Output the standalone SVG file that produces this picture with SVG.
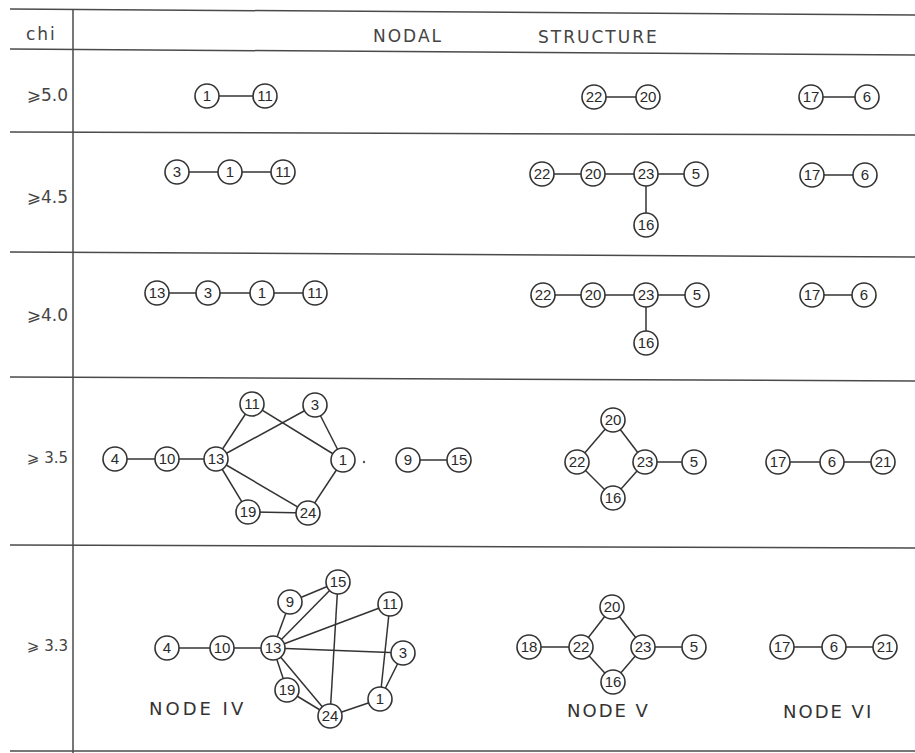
<svg xmlns="http://www.w3.org/2000/svg" width="915" height="753" viewBox="0 0 915 753">
<style>
.bg{fill:#fff}
.rule{stroke:#4a4a4a;stroke-width:1.5;fill:none}
.hd{font-family:"DejaVu Sans",sans-serif;font-size:17px;fill:#444;letter-spacing:2px}
.rl{font-family:"DejaVu Sans",sans-serif;font-size:17px;fill:#444;text-anchor:end}
.rs{font-size:15px}
.nd text{font-family:"Liberation Sans",sans-serif;font-size:15px;fill:#2a2a2a;text-anchor:middle}
.cn line{stroke:#333;stroke-width:1.5}
.cap{font-family:"DejaVu Sans",sans-serif;font-size:18px;fill:#333;letter-spacing:2px}
</style>
<defs>
<circle id="c" r="12" fill="#fff" stroke="#333" stroke-width="1.6"/>
</defs>
<rect class="bg" x="0" y="0" width="915" height="753"/>
<g id="table">
<line class="rule" x1="10" y1="9" x2="915" y2="15"/>
<line class="rule" x1="10" y1="49" x2="915" y2="55"/>
<line class="rule" x1="10" y1="132" x2="915" y2="135"/>
<line class="rule" x1="10" y1="252" x2="915" y2="257"/>
<line class="rule" x1="10" y1="377" x2="915" y2="381"/>
<line class="rule" x1="10" y1="545" x2="915" y2="548"/>
<line class="rule" x1="10" y1="751" x2="915" y2="751"/>
<line class="rule" x1="73" y1="9" x2="73" y2="753"/>
</g>
<g id="headers">
<text class="hd" x="26" y="40">chi</text>
<text class="hd" x="373" y="42">NODAL</text>
<text class="hd" x="538" y="43">STRUCTURE</text>
<text class="rl" x="68" y="101">⩾5.0</text>
<text class="rl" x="68" y="203">⩾4.5</text>
<text class="rl" x="68" y="321">⩾4.0</text>
<text class="rl rs" x="68" y="463">⩾ 3.5</text>
<text class="rl rs" x="68" y="651">⩾ 3.3</text>
<text class="cap" x="149" y="715" style="letter-spacing:3px">NODE  IV</text>
<text class="cap" x="567" y="717">NODE  V</text>
<text class="cap" x="783" y="718">NODE  VI</text>
</g>
<g id="connectors" class="cn">
<line x1="207" y1="96" x2="265" y2="96"/>
<line x1="594" y1="97" x2="648" y2="97"/>
<line x1="811" y1="97" x2="867" y2="97"/>
<line x1="177" y1="172" x2="230" y2="172"/>
<line x1="230" y1="172" x2="283" y2="172"/>
<line x1="542" y1="174" x2="593" y2="174"/>
<line x1="593" y1="174" x2="646" y2="174"/>
<line x1="646" y1="174" x2="696" y2="174"/>
<line x1="646" y1="174" x2="646" y2="225"/>
<line x1="812" y1="175" x2="865" y2="175"/>
<line x1="157" y1="293" x2="208" y2="293"/>
<line x1="208" y1="293" x2="262" y2="293"/>
<line x1="262" y1="293" x2="315" y2="293"/>
<line x1="543" y1="295" x2="593" y2="295"/>
<line x1="593" y1="295" x2="646" y2="295"/>
<line x1="646" y1="295" x2="697" y2="295"/>
<line x1="646" y1="295" x2="646" y2="343"/>
<line x1="812" y1="295" x2="864" y2="295"/>
<line x1="115" y1="459" x2="167" y2="459"/>
<line x1="167" y1="459" x2="216" y2="459"/>
<line x1="216" y1="459" x2="252" y2="404"/>
<line x1="216" y1="459" x2="315" y2="405"/>
<line x1="216" y1="459" x2="248" y2="512"/>
<line x1="216" y1="459" x2="308" y2="513"/>
<line x1="252" y1="404" x2="343" y2="460"/>
<line x1="315" y1="405" x2="343" y2="460"/>
<line x1="343" y1="460" x2="308" y2="513"/>
<line x1="248" y1="512" x2="308" y2="513"/>
<line x1="408" y1="460" x2="459" y2="460"/>
<line x1="613" y1="420" x2="577" y2="462"/>
<line x1="613" y1="420" x2="645" y2="462"/>
<line x1="577" y1="462" x2="613" y2="498"/>
<line x1="645" y1="462" x2="613" y2="498"/>
<line x1="645" y1="462" x2="694" y2="462"/>
<line x1="778" y1="462" x2="832" y2="462"/>
<line x1="832" y1="462" x2="883" y2="462"/>
<line x1="167" y1="648" x2="222" y2="648"/>
<line x1="222" y1="648" x2="273" y2="648"/>
<line x1="273" y1="648" x2="290" y2="602"/>
<line x1="273" y1="648" x2="338" y2="582"/>
<line x1="290" y1="602" x2="338" y2="582"/>
<line x1="273" y1="648" x2="390" y2="604"/>
<line x1="273" y1="648" x2="403" y2="653"/>
<line x1="273" y1="648" x2="287" y2="690"/>
<line x1="273" y1="648" x2="330" y2="716"/>
<line x1="338" y1="582" x2="330" y2="716"/>
<line x1="390" y1="604" x2="380" y2="699"/>
<line x1="403" y1="653" x2="380" y2="699"/>
<line x1="287" y1="690" x2="330" y2="716"/>
<line x1="330" y1="716" x2="380" y2="699"/>
<line x1="529" y1="647" x2="581" y2="647"/>
<line x1="581" y1="647" x2="612" y2="607"/>
<line x1="612" y1="607" x2="643" y2="647"/>
<line x1="581" y1="647" x2="613" y2="682"/>
<line x1="643" y1="647" x2="613" y2="682"/>
<line x1="643" y1="647" x2="694" y2="647"/>
<line x1="782" y1="647" x2="834" y2="647"/>
<line x1="834" y1="647" x2="885" y2="647"/>
</g>
<circle cx="364" cy="462" r="1.2" fill="#555"/>
<g id="r1-1" class="nd"><use href="#c" x="207" y="96"/><text x="207" y="101">1</text></g>
<g id="r1-11" class="nd"><use href="#c" x="265" y="96"/><text x="265" y="101">11</text></g>
<g id="r1-22" class="nd"><use href="#c" x="594" y="97"/><text x="594" y="102">22</text></g>
<g id="r1-20" class="nd"><use href="#c" x="648" y="97"/><text x="648" y="102">20</text></g>
<g id="r1-17" class="nd"><use href="#c" x="811" y="97"/><text x="811" y="102">17</text></g>
<g id="r1-6" class="nd"><use href="#c" x="867" y="97"/><text x="867" y="102">6</text></g>
<g id="r2-3" class="nd"><use href="#c" x="177" y="172"/><text x="177" y="177">3</text></g>
<g id="r2-1" class="nd"><use href="#c" x="230" y="172"/><text x="230" y="177">1</text></g>
<g id="r2-11" class="nd"><use href="#c" x="283" y="172"/><text x="283" y="177">11</text></g>
<g id="r2-22" class="nd"><use href="#c" x="542" y="174"/><text x="542" y="179">22</text></g>
<g id="r2-20" class="nd"><use href="#c" x="593" y="174"/><text x="593" y="179">20</text></g>
<g id="r2-23" class="nd"><use href="#c" x="646" y="174"/><text x="646" y="179">23</text></g>
<g id="r2-5" class="nd"><use href="#c" x="696" y="174"/><text x="696" y="179">5</text></g>
<g id="r2-16" class="nd"><use href="#c" x="646" y="225"/><text x="646" y="230">16</text></g>
<g id="r2-17" class="nd"><use href="#c" x="812" y="175"/><text x="812" y="180">17</text></g>
<g id="r2-6" class="nd"><use href="#c" x="865" y="175"/><text x="865" y="180">6</text></g>
<g id="r3-13" class="nd"><use href="#c" x="157" y="293"/><text x="157" y="298">13</text></g>
<g id="r3-3" class="nd"><use href="#c" x="208" y="293"/><text x="208" y="298">3</text></g>
<g id="r3-1" class="nd"><use href="#c" x="262" y="293"/><text x="262" y="298">1</text></g>
<g id="r3-11" class="nd"><use href="#c" x="315" y="293"/><text x="315" y="298">11</text></g>
<g id="r3-22" class="nd"><use href="#c" x="543" y="295"/><text x="543" y="300">22</text></g>
<g id="r3-20" class="nd"><use href="#c" x="593" y="295"/><text x="593" y="300">20</text></g>
<g id="r3-23" class="nd"><use href="#c" x="646" y="295"/><text x="646" y="300">23</text></g>
<g id="r3-5" class="nd"><use href="#c" x="697" y="295"/><text x="697" y="300">5</text></g>
<g id="r3-16" class="nd"><use href="#c" x="646" y="343"/><text x="646" y="348">16</text></g>
<g id="r3-17" class="nd"><use href="#c" x="812" y="295"/><text x="812" y="300">17</text></g>
<g id="r3-6" class="nd"><use href="#c" x="864" y="295"/><text x="864" y="300">6</text></g>
<g id="r4-4" class="nd"><use href="#c" x="115" y="459"/><text x="115" y="464">4</text></g>
<g id="r4-10" class="nd"><use href="#c" x="167" y="459"/><text x="167" y="464">10</text></g>
<g id="r4-13" class="nd"><use href="#c" x="216" y="459"/><text x="216" y="464">13</text></g>
<g id="r4-11" class="nd"><use href="#c" x="252" y="404"/><text x="252" y="409">11</text></g>
<g id="r4-3" class="nd"><use href="#c" x="315" y="405"/><text x="315" y="410">3</text></g>
<g id="r4-1" class="nd"><use href="#c" x="343" y="460"/><text x="343" y="465">1</text></g>
<g id="r4-24" class="nd"><use href="#c" x="308" y="513"/><text x="308" y="518">24</text></g>
<g id="r4-19" class="nd"><use href="#c" x="248" y="512"/><text x="248" y="517">19</text></g>
<g id="r4-9" class="nd"><use href="#c" x="408" y="460"/><text x="408" y="465">9</text></g>
<g id="r4-15" class="nd"><use href="#c" x="459" y="460"/><text x="459" y="465">15</text></g>
<g id="r4-20" class="nd"><use href="#c" x="613" y="420"/><text x="613" y="425">20</text></g>
<g id="r4-22" class="nd"><use href="#c" x="577" y="462"/><text x="577" y="467">22</text></g>
<g id="r4-23" class="nd"><use href="#c" x="645" y="462"/><text x="645" y="467">23</text></g>
<g id="r4-5" class="nd"><use href="#c" x="694" y="462"/><text x="694" y="467">5</text></g>
<g id="r4-16" class="nd"><use href="#c" x="613" y="498"/><text x="613" y="503">16</text></g>
<g id="r4-17" class="nd"><use href="#c" x="778" y="462"/><text x="778" y="467">17</text></g>
<g id="r4-6" class="nd"><use href="#c" x="832" y="462"/><text x="832" y="467">6</text></g>
<g id="r4-21" class="nd"><use href="#c" x="883" y="462"/><text x="883" y="467">21</text></g>
<g id="r5-4" class="nd"><use href="#c" x="167" y="648"/><text x="167" y="653">4</text></g>
<g id="r5-10" class="nd"><use href="#c" x="222" y="648"/><text x="222" y="653">10</text></g>
<g id="r5-13" class="nd"><use href="#c" x="273" y="648"/><text x="273" y="653">13</text></g>
<g id="r5-9" class="nd"><use href="#c" x="290" y="602"/><text x="290" y="607">9</text></g>
<g id="r5-15" class="nd"><use href="#c" x="338" y="582"/><text x="338" y="587">15</text></g>
<g id="r5-11" class="nd"><use href="#c" x="390" y="604"/><text x="390" y="609">11</text></g>
<g id="r5-3" class="nd"><use href="#c" x="403" y="653"/><text x="403" y="658">3</text></g>
<g id="r5-1" class="nd"><use href="#c" x="380" y="699"/><text x="380" y="704">1</text></g>
<g id="r5-24" class="nd"><use href="#c" x="330" y="716"/><text x="330" y="721">24</text></g>
<g id="r5-19" class="nd"><use href="#c" x="287" y="690"/><text x="287" y="695">19</text></g>
<g id="r5-18" class="nd"><use href="#c" x="529" y="647"/><text x="529" y="652">18</text></g>
<g id="r5-22" class="nd"><use href="#c" x="581" y="647"/><text x="581" y="652">22</text></g>
<g id="r5-20" class="nd"><use href="#c" x="612" y="607"/><text x="612" y="612">20</text></g>
<g id="r5-23" class="nd"><use href="#c" x="643" y="647"/><text x="643" y="652">23</text></g>
<g id="r5-5" class="nd"><use href="#c" x="694" y="647"/><text x="694" y="652">5</text></g>
<g id="r5-16" class="nd"><use href="#c" x="613" y="682"/><text x="613" y="687">16</text></g>
<g id="r5-17" class="nd"><use href="#c" x="782" y="647"/><text x="782" y="652">17</text></g>
<g id="r5-6" class="nd"><use href="#c" x="834" y="647"/><text x="834" y="652">6</text></g>
<g id="r5-21" class="nd"><use href="#c" x="885" y="647"/><text x="885" y="652">21</text></g>
</svg>
